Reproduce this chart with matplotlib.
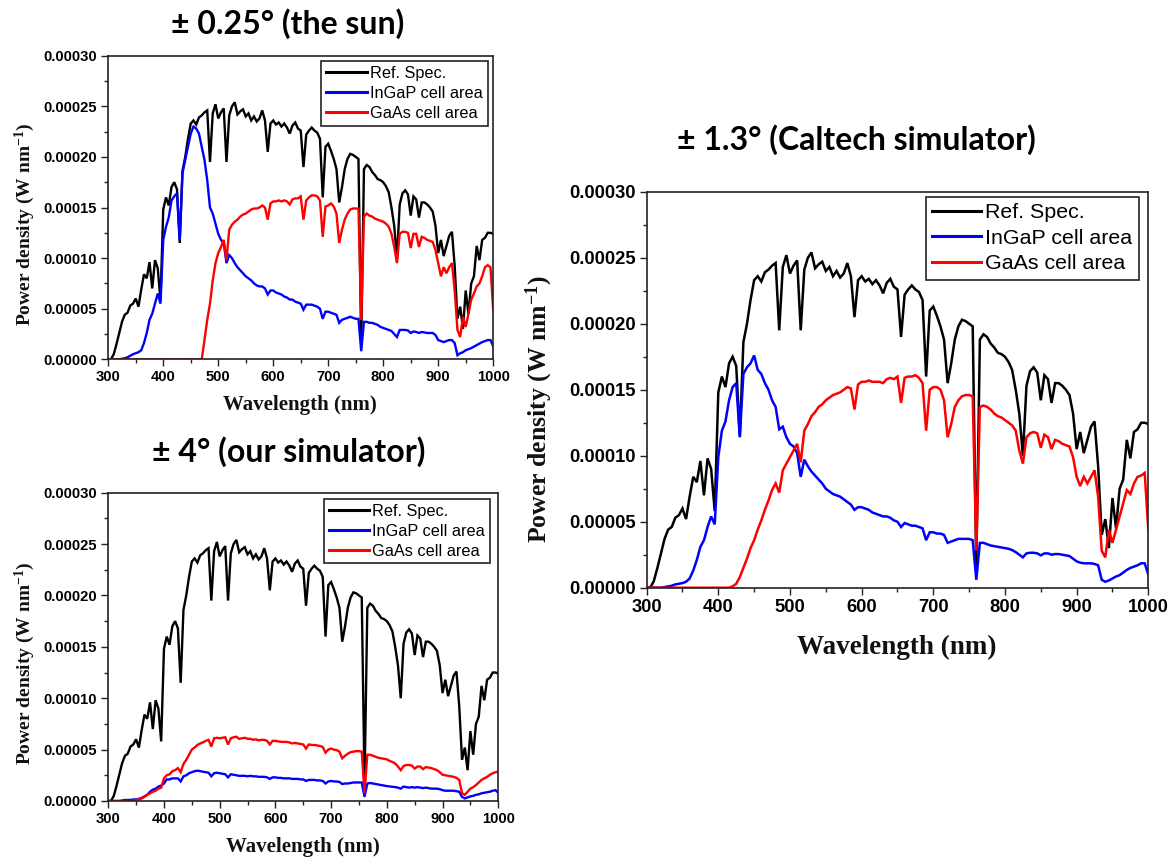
import numpy as np
import matplotlib
matplotlib.use("Agg")
import matplotlib.pyplot as plt
from matplotlib.ticker import MultipleLocator, FormatStrFormatter

plt.rcParams['mathtext.fontset'] = 'custom'
plt.rcParams['mathtext.rm'] = 'Liberation Serif:bold'
plt.rcParams['mathtext.bf'] = 'Liberation Serif:bold'
plt.rcParams['mathtext.default'] = 'rm'

# Wavelength grid (nm); all power densities below are in units of 1e-5 W/nm
wavelength = np.arange(300, 1001, 5)

ref_spec = [
    0, 0, 0.5, 1.5, 2.6, 3.7, 4.4, 4.6, 5.3, 5.5,
    6.0, 5.2, 6.9, 8.4, 8.0, 9.6, 7.0, 9.8, 9.0, 5.8,
    14.8, 16.0, 15.2, 17.0, 17.5, 16.8, 11.5, 18.6, 20.0, 21.8,
    23.3, 23.6, 23.2, 23.9, 24.1, 24.4, 24.6, 19.5, 24.3, 25.2,
    23.8, 24.4, 24.8, 19.5, 24.1, 25.0, 25.4, 24.2, 24.5, 24.7,
    24.0, 24.3, 23.6, 24.0, 23.5, 23.8, 24.6, 23.6, 20.5, 23.3,
    23.6, 23.2, 23.4, 23.0, 23.3, 22.9, 22.3, 23.1, 23.4, 22.8,
    22.6, 19.0, 22.2, 22.6, 22.9, 22.6, 22.4, 21.8, 16.0, 21.0,
    21.3, 20.6, 19.8, 18.8, 15.5, 17.0, 18.8, 19.8, 20.3, 20.2,
    20.0, 19.8, 1.5, 18.8, 19.2, 19.0, 18.5, 18.2, 17.8, 17.7,
    17.5, 17.1, 16.5, 15.0, 13.2, 10.0, 15.3, 16.4, 16.7, 16.3,
    14.2, 16.1, 15.8, 14.0, 15.5, 15.5, 15.3, 15.0, 14.6, 13.2,
    10.5, 11.8, 10.2, 11.2, 12.2, 12.6, 9.2, 4.0, 5.2, 3.0,
    6.8, 4.5, 7.5, 8.2, 11.2, 9.8, 11.8, 12.0, 12.5, 12.5,
    12.4,
]

sun_ingap = [
    0, 0, 0, 0, 0, 0.05, 0.1, 0.2, 0.35, 0.5,
    0.6, 0.7, 0.9, 1.6, 2.6, 3.9, 4.5, 5.5, 6.5, 5.5,
    11.8, 13.1, 14.0, 15.7, 16.1, 16.4, 11.8, 18.4, 19.7, 21.0,
    22.3, 23.0, 22.8, 22.3, 21.0, 19.7, 17.7, 15.0, 14.4, 13.4,
    12.4, 11.8, 11.5, 9.5, 10.3, 10.0, 9.5, 9.1, 8.8, 8.5,
    8.2, 8.0, 7.8, 7.5, 7.3, 7.2, 7.2, 7.0, 6.4, 6.8,
    6.8, 6.6, 6.5, 6.4, 6.2, 6.1, 5.9, 5.9, 5.7, 5.6,
    5.5, 4.9, 5.4, 5.4, 5.4, 5.3, 5.2, 5.0, 4.0, 4.7,
    4.7, 4.6, 4.5, 4.4, 3.6, 3.9, 4.0, 4.1, 4.2, 4.1,
    4.0, 4.0, 0.8, 3.7, 3.7, 3.6, 3.6, 3.5, 3.4, 3.2,
    3.1, 3.0, 2.9, 2.8, 2.5, 2.2, 2.9, 2.9, 2.9, 2.85,
    2.6, 2.75, 2.7, 2.6, 2.7, 2.65, 2.6, 2.6, 2.6, 2.4,
    1.9, 1.8, 1.7, 1.8, 1.9, 1.9, 1.6, 0.4, 0.6, 0.7,
    0.9, 1.0, 1.1, 1.25, 1.4, 1.55, 1.7, 1.8, 1.9, 1.9,
    1.3,
]

sun_gaas = [
    0, 0, 0, 0, 0, 0, 0, 0, 0, 0,
    0, 0, 0, 0, 0, 0, 0, 0, 0, 0,
    0, 0, 0, 0, 0, 0, 0, 0, 0, 0,
    0, 0, 0, 0, 0, 1.9, 3.9, 5.5, 7.8, 9.5,
    10.5, 11.1, 11.8, 9.8, 12.8, 13.3, 13.6, 13.8, 14.1, 14.3,
    14.4, 14.6, 14.8, 14.9, 14.9, 15.0, 15.2, 15.0, 13.8, 15.4,
    15.6, 15.6, 15.7, 15.6, 15.7, 15.6, 15.3, 15.8, 15.9, 15.9,
    16.1, 13.8, 15.7, 16.0, 16.2, 16.2, 16.1, 15.7, 12.1, 15.1,
    15.2, 15.4, 15.1, 14.4, 11.5, 12.8, 13.8, 14.4, 14.8, 14.9,
    14.9, 14.9, 3.9, 14.1, 14.4, 14.2, 14.1, 13.9, 13.8, 13.7,
    13.6, 13.4, 13.1, 12.4, 11.1, 9.5, 12.4, 12.6, 12.6, 12.5,
    11.0, 12.4, 12.4, 11.1, 12.1, 12.0, 11.8, 11.7, 11.6, 10.8,
    9.5, 8.2, 9.1, 8.5, 9.1, 9.5, 6.8, 2.9, 2.2, 4.2,
    3.2, 4.5, 5.9, 6.5, 7.2, 7.5, 8.2, 9.1, 9.3, 9.1,
    4.9,
]

caltech_ingap = [
    0, 0, 0, 0, 0, 0.05, 0.1, 0.15, 0.25, 0.3,
    0.35, 0.45, 0.7, 1.3, 2.1, 3.1, 3.6, 4.6, 5.4, 4.8,
    9.9, 11.9, 12.6, 14.2, 15.2, 15.5, 11.4, 16.2, 16.7, 17.0,
    17.6, 16.5, 16.2, 15.5, 15.0, 14.2, 13.7, 12.0, 12.2, 11.4,
    10.9, 10.7, 10.2, 8.4, 9.7, 9.2, 8.8, 8.5, 8.2, 7.9,
    7.5, 7.3, 7.1, 7.0, 6.9, 6.7, 6.5, 6.3, 5.9, 6.1,
    6.1, 6.0, 5.9, 5.7, 5.6, 5.5, 5.4, 5.4, 5.3, 5.1,
    5.0, 4.6, 4.9, 4.8, 4.7, 4.7, 4.6, 4.5, 3.6, 4.2,
    4.2, 4.1, 4.1, 4.0, 3.4, 3.5, 3.6, 3.7, 3.7, 3.7,
    3.7, 3.6, 0.6, 3.4, 3.4, 3.3, 3.2, 3.15, 3.1, 3.05,
    3.0, 2.95, 2.85, 2.7, 2.5, 2.3, 2.6, 2.65, 2.65, 2.6,
    2.45, 2.6, 2.6, 2.5, 2.55, 2.55, 2.5, 2.45, 2.4, 2.2,
    2.0, 1.9, 1.85, 1.85, 1.85, 1.8, 1.7, 0.6, 0.45, 0.55,
    0.7, 0.85, 0.95, 1.15, 1.35, 1.5, 1.6, 1.7, 1.85, 1.85,
    1.0,
]

caltech_gaas = [
    0, 0, 0, 0, 0, 0, 0, 0, 0, 0,
    0, 0, 0, 0, 0, 0, 0, 0, 0, 0,
    0, 0, 0, 0, 0.1, 0.3, 0.8, 1.5, 2.2, 3.0,
    3.6, 4.4, 5.1, 5.9, 6.6, 7.4, 7.9, 7.2, 8.9, 9.4,
    9.9, 10.4, 10.9, 9.5, 11.9, 12.4, 13.0, 13.3, 13.7, 13.9,
    14.2, 14.4, 14.6, 14.7, 14.8, 15.0, 15.2, 15.1, 13.5, 15.4,
    15.6, 15.6, 15.7, 15.6, 15.6, 15.6, 15.5, 15.8, 15.9, 15.8,
    16.0, 14.0, 15.9, 16.0, 16.0, 16.1, 15.9, 15.5, 11.9, 15.0,
    15.2, 15.2, 15.0, 14.2, 11.4, 12.4, 13.7, 14.2, 14.5, 14.6,
    14.6, 14.5, 2.8, 13.7, 13.8, 13.7, 13.5, 13.2, 13.0, 12.9,
    12.7, 12.5, 12.3, 11.9, 10.4, 9.4, 11.4, 11.7, 11.8, 11.7,
    10.6, 11.6, 11.4, 10.5, 11.2, 11.1, 10.9, 10.8, 10.7, 9.9,
    8.4, 7.7, 8.4, 7.9, 8.4, 8.9, 6.9, 2.8, 2.3, 4.4,
    3.4, 4.4, 5.4, 6.4, 7.4, 7.1, 7.9, 8.4, 8.5, 8.7,
    4.4,
]

ours_ingap = [
    0, 0, 0, 0, 0, 0.05, 0.1, 0.1, 0.1, 0.15,
    0.15, 0.2, 0.3, 0.45, 0.6, 0.9, 1.1, 1.2, 1.4, 1.5,
    1.7, 2.1, 2.1, 2.2, 2.2, 2.2, 1.9, 2.4, 2.5, 2.7,
    2.8, 2.9, 2.95, 2.9, 2.85, 2.8, 2.75, 2.4, 2.7, 2.75,
    2.7, 2.65, 2.6, 2.3, 2.6, 2.55, 2.5, 2.45, 2.45, 2.45,
    2.4, 2.45, 2.4, 2.4, 2.35, 2.35, 2.35, 2.3, 2.15, 2.3,
    2.3, 2.25, 2.25, 2.2, 2.2, 2.2, 2.15, 2.15, 2.15, 2.1,
    2.1, 1.95, 2.05, 2.05, 2.05, 2.0, 2.0, 1.95, 1.7, 1.9,
    1.95, 1.9, 1.9, 1.85, 1.65, 1.7, 1.7, 1.75, 1.8, 1.8,
    1.8, 1.8, 0.4, 1.7, 1.75, 1.7, 1.65, 1.6, 1.55, 1.5,
    1.45, 1.42, 1.4, 1.35, 1.3, 1.2, 1.4, 1.35, 1.3, 1.35,
    1.3, 1.35, 1.3, 1.25, 1.3, 1.25, 1.2, 1.2, 1.2, 1.15,
    1.05, 1.0, 1.0, 1.0, 1.0, 0.95, 0.9, 0.4, 0.25, 0.35,
    0.45, 0.5, 0.6, 0.65, 0.75, 0.8, 0.85, 0.9, 1.0, 1.05,
    0.8,
]

ours_gaas = [
    0, 0, 0, 0, 0, 0, 0, 0, 0, 0.05,
    0.1, 0.15, 0.25, 0.4, 0.6, 0.75, 0.9, 1.0, 1.2, 1.3,
    2.2, 2.5, 2.6, 2.9, 3.0, 3.2, 2.8, 3.6, 4.0, 4.5,
    5.0, 5.2, 5.45, 5.6, 5.7, 5.85, 5.95, 5.3, 6.1, 6.15,
    6.1, 6.15, 6.2, 5.5, 6.1, 6.2, 6.25, 6.05, 6.1, 6.15,
    6.05, 6.05, 5.95, 6.0, 5.9, 5.95, 5.95, 5.85, 5.5, 5.85,
    5.85, 5.8, 5.75, 5.75, 5.75, 5.7, 5.6, 5.65, 5.6, 5.55,
    5.5, 5.1, 5.5, 5.45, 5.45, 5.4, 5.35, 5.25, 4.7, 5.0,
    5.1, 5.0, 4.95, 4.8, 4.15, 4.4, 4.6, 4.75, 4.8, 4.85,
    4.85, 4.8, 0.75, 4.5, 4.5, 4.4, 4.3, 4.2, 4.15, 4.1,
    4.05, 3.9, 3.8, 3.65, 3.35, 3.0, 3.4, 3.5, 3.5, 3.45,
    3.15, 3.35, 3.35, 3.1, 3.3, 3.25, 3.2, 3.1, 3.0, 2.8,
    2.55, 2.5, 2.45, 2.4, 2.35, 2.25, 2.05, 0.75, 0.6, 0.9,
    1.2, 1.35, 1.55, 1.8, 2.05, 2.2, 2.35, 2.55, 2.7, 2.8,
    2.85,
]

series_names = ["Ref. Spec.", "InGaP cell area", "GaAs cell area"]
series_colors = ["#000000", "#0000ff", "#ff0000"]
SCALE = 1e-5

fig = plt.figure(figsize=(11.74, 8.61), dpi=100)
fig.patch.set_facecolor("white")


def draw_panel(ax, ingap, gaas, tick_fs, xlabel_fs, ylabel_fs, legend_fs,
               legend_anchor, xlabel_pos, ylabel_pos, lw, handlelen):
    for vals, name, col in zip([ref_spec, ingap, gaas], series_names, series_colors):
        ax.plot(wavelength, np.asarray(vals) * SCALE, color=col, lw=lw,
                label=name, solid_joinstyle="miter")
    ax.set_xlim(300, 1000)
    ax.set_ylim(0, 0.0003)
    ax.xaxis.set_major_locator(MultipleLocator(100))
    ax.xaxis.set_minor_locator(MultipleLocator(50))
    ax.yaxis.set_major_locator(MultipleLocator(0.00005))
    ax.yaxis.set_minor_locator(MultipleLocator(0.000025))
    ax.xaxis.set_major_formatter(FormatStrFormatter("%d"))
    ax.yaxis.set_major_formatter(FormatStrFormatter("%.5f"))
    ax.tick_params(which="both", direction="out", top=False, right=False,
                   width=1.0, colors="#222222")
    ax.tick_params(which="major", length=5, pad=3, labelsize=tick_fs,
                   labelcolor="black")
    ax.tick_params(which="minor", length=3)
    for lbl in ax.get_xticklabels() + ax.get_yticklabels():
        lbl.set_fontfamily("Liberation Sans")
        lbl.set_fontweight("bold")
    for sp in ax.spines.values():
        sp.set_linewidth(1.2)
        sp.set_color("#222222")

    ax.set_xlabel("Wavelength (nm)", fontfamily="Liberation Serif",
                  fontweight="bold", fontsize=xlabel_fs, color="#111111")
    ax.set_ylabel(r"Power density (W nm$^{-1}$)", fontfamily="Liberation Serif",
                  fontweight="bold", fontsize=ylabel_fs, color="#111111")
    ax.xaxis.label.set_va("center")
    ax.yaxis.label.set_va("center")
    ax.xaxis.set_label_coords(*xlabel_pos)
    ax.yaxis.set_label_coords(*ylabel_pos)

    leg = ax.legend(loc="upper right", bbox_to_anchor=legend_anchor,
                    borderaxespad=0, fancybox=False, framealpha=1,
                    prop={"family": "Liberation Sans", "size": legend_fs},
                    handlelength=handlelen, handletextpad=0.2,
                    labelspacing=0.3, borderpad=0.3)
    leg.get_frame().set_edgecolor("#222222")
    leg.get_frame().set_linewidth(1.2)
    for line in leg.get_lines():
        line.set_linewidth(2.2)


ax_sun = fig.add_axes([0.0922, 0.5827, 0.3279, 0.3526])
ax_ours = fig.add_axes([0.0922, 0.0697, 0.3322, 0.3581])
ax_cal = fig.add_axes([0.5508, 0.3174, 0.4273, 0.4599])

draw_panel(ax_sun, sun_ingap, sun_gaas, 10.6, 15, 14, 11.7, (0.986, 0.9825),
           (0.498, -0.15), (-0.216, 0.446), 1.7, 2.5)
draw_panel(ax_ours, ours_ingap, ours_gaas, 10.6, 15, 14, 11.7, (0.979, 0.9796),
           (0.5, -0.149), (-0.214, 0.446), 1.7, 2.5)
draw_panel(ax_cal, caltech_ingap, caltech_gaas, 13.2, 19.5, 18.5, 15.4,
           (0.9815, 0.9866), (0.499, -0.152), (-0.213, 0.452), 1.8, 2.3)

title_kw = dict(fontfamily="Lato", fontweight="bold", fontsize=23,
                ha="center", va="center", color="black")
fig.text(0.2449, 0.973, "± 0.25° (the sun)", **title_kw)
fig.text(0.2462, 0.475, "± 4° (our simulator)", **title_kw)
fig.text(0.7297, 0.838, "± 1.3° (Caltech simulator)", **title_kw)

fig.savefig("out.png", dpi=100, facecolor="white")
